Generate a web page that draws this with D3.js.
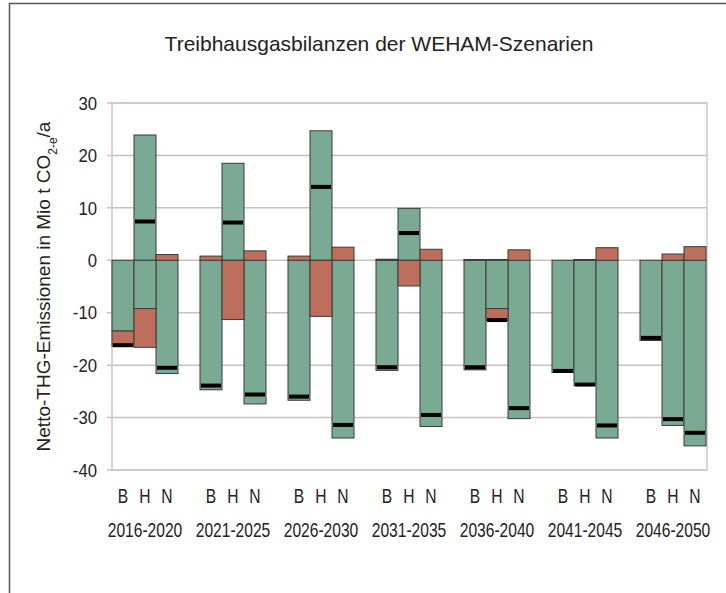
<!DOCTYPE html>
<html>
<head>
<meta charset="utf-8">
<script src="https://cdn.jsdelivr.net/npm/d3@7"></script>
<style>
    body { margin: 0; background: #fff; }
    svg { display: block; }
    text { font-family: 'Liberation Sans', Arial, sans-serif; fill: #222; }
</style>
</head>
<body>
<div id="chart"></div>
<script>
// Values, period-major order (B, H, N per period)
var periods = ['2016-2020', '2021-2025', '2026-2030', '2031-2035', '2036-2040', '2041-2045', '2046-2050'];
var scenarios = ['B', 'H', 'N'];
var yTicks = [30, 20, 10, 0, -10, -20, -30, -40];

// green part 1 (forest)
var wald1 = [
    -13.5, 23.9, -21.6,
    -24.7, 18.5, -27.4,
    -26.7, 24.7, -33.9,
    -21.0, 9.9, -31.7,
    -20.9, 0.15, -30.2,
    -21.4, -23.9, -33.9,
    -15.3, -31.5, -35.4
];
// green part 2 (only where forest has a second, negative share)
var wald2 = [
    0, -9.2, 0,
    0, 0, 0,
    0, 0, 0,
    0, 0, 0,
    0, -9.2, 0,
    0, 0, 0,
    0, 0, 0
];
// red (wood products)
var hwp = [
    -2.9, -7.4, 1.1,
    0.8, -11.3, 1.8,
    0.8, -10.7, 2.5,
    0.2, -4.9, 2.1,
    0.15, -2.3, 2.0,
    0, 0.15, 2.4,
    0, 1.2, 2.6
];
// black markers (net balance)
var netto = [
    -16.2, 7.4, -20.5,
    -23.9, 7.2, -25.6,
    -26.0, 14.0, -31.4,
    -20.4, 5.2, -29.5,
    -20.4, -11.4, -28.2,
    -21.1, -23.7, -31.5,
    -14.8, -30.3, -32.9
];

var width = 726, height = 593;
var plot = { left: 112, right: 707, top: 103, bottom: 470 };
var colors = { wald1: '#7aaa93', wald2: '#7aaa93', hwp: '#bd6e5d' };
var narrow = 0.78; // horizontal squeeze, the original uses a condensed face

var rows = [];
periods.forEach(function (p, i) {
    scenarios.forEach(function (s, j) {
        var k = i * 3 + j;
        rows.push({ period: p, scenario: s, wald1: wald1[k], wald2: wald2[k], hwp: hwp[k], netto: netto[k] });
    });
});

var svg = d3.select('#chart').append('svg')
    .attr('width', width)
    .attr('height', height);

// outer frame (left and top edges only visible)
svg.append('path')
    .attr('d', 'M9.5,' + height + 'V3.5H' + width)
    .attr('fill', 'none')
    .attr('stroke', '#555')
    .attr('stroke-width', 1.5);

var x0 = d3.scaleBand().domain(periods).range([plot.left, plot.left + 7 * 88]);
var x1 = d3.scaleBand().domain(scenarios).range([0, 66]);
var y = d3.scaleLinear().domain([-40, 30]).range([plot.bottom, plot.top]);

// gridlines + tick marks
svg.append('g')
    .selectAll('line')
    .data(yTicks)
    .enter()
        .append('line')
        .attr('x1', plot.left - 5)
        .attr('x2', plot.right)
        .attr('y1', function (d) { return y(d); })
        .attr('y2', function (d) { return y(d); })
        .attr('stroke', '#c9bfbb')
        .attr('stroke-width', 1.5);

svg.append('rect')
    .attr('x', plot.left)
    .attr('y', plot.top)
    .attr('width', plot.right - plot.left)
    .attr('height', plot.bottom - plot.top)
    .attr('fill', 'none')
    .attr('stroke', '#cfc7c4')
    .attr('stroke-width', 1.5);

svg.append('g')
    .selectAll('text')
    .data(yTicks)
    .enter()
        .append('text')
        .attr('transform', function (d) { return 'translate(97,' + y(d) + ') scale(0.88,1)'; })
        .attr('dy', '0.35em')
        .attr('text-anchor', 'end')
        .style('font-size', '19px')
        .text(function (d) { return d; });

// bars
var series = d3.stack()
    .keys(['wald1', 'wald2', 'hwp'])
    .offset(d3.stackOffsetDiverging)(rows);

svg.append('g')
    .selectAll('g')
    .data(series)
    .enter()
        .append('g')
        .attr('fill', function (s) { return colors[s.key]; })
        .selectAll('rect')
        .data(function (s) { return s.filter(function (d) { return d[1] !== d[0]; }); })
        .enter()
            .append('rect')
            .attr('x', function (d) { return x0(d.data.period) + x1(d.data.scenario); })
            .attr('width', x1.bandwidth())
            .attr('y', function (d) { return y(d[1]); })
            .attr('height', function (d) { return y(d[0]) - y(d[1]); })
            .attr('stroke', '#3b3b3b')
            .attr('stroke-width', 1);

// net markers
svg.append('g')
    .selectAll('rect')
    .data(rows)
    .enter()
        .append('rect')
        .attr('x', function (d) { return x0(d.period) + x1(d.scenario) + 1; })
        .attr('width', x1.bandwidth() - 2)
        .attr('y', function (d) { return y(d.netto) - 2; })
        .attr('height', 4)
        .attr('fill', '#000');

// category labels
svg.append('g')
    .selectAll('text')
    .data(rows)
    .enter()
        .append('text')
        .attr('transform', function (d) {
            var cx = x0(d.period) + x1(d.scenario) + x1.bandwidth() / 2;
            return 'translate(' + cx + ',496) scale(' + narrow + ',1)';
        })
        .attr('dy', '0.35em')
        .attr('text-anchor', 'middle')
        .style('font-size', '20px')
        .text(function (d) { return d.scenario; });

svg.append('g')
    .selectAll('text')
    .data(periods)
    .enter()
        .append('text')
        .attr('transform', function (d) {
            return 'translate(' + (x0(d) + 33) + ',530) scale(' + narrow + ',1)';
        })
        .attr('dy', '0.35em')
        .attr('text-anchor', 'middle')
        .style('font-size', '20px')
        .text(function (d) { return d; });

// title
svg.append('text')
    .attr('x', 379)
    .attr('y', 44)
    .attr('dy', '0.35em')
    .attr('text-anchor', 'middle')
    .style('font-size', '21px')
    .text('Treibhausgasbilanzen der WEHAM-Szenarien');

// y axis title with subscript
var yTitle = svg.append('text')
    .attr('transform', 'translate(43,' + ((plot.top + plot.bottom) / 2) + ') rotate(-90)')
    .attr('text-anchor', 'middle')
    .attr('dy', '0.35em')
    .style('font-size', '19px');
yTitle.append('tspan').text('Netto-THG-Emissionen in Mio t CO');
yTitle.append('tspan').attr('baseline-shift', 'sub').style('font-size', '12px').text('2-e');
yTitle.append('tspan').text('/a');
</script>
</body>
</html>
